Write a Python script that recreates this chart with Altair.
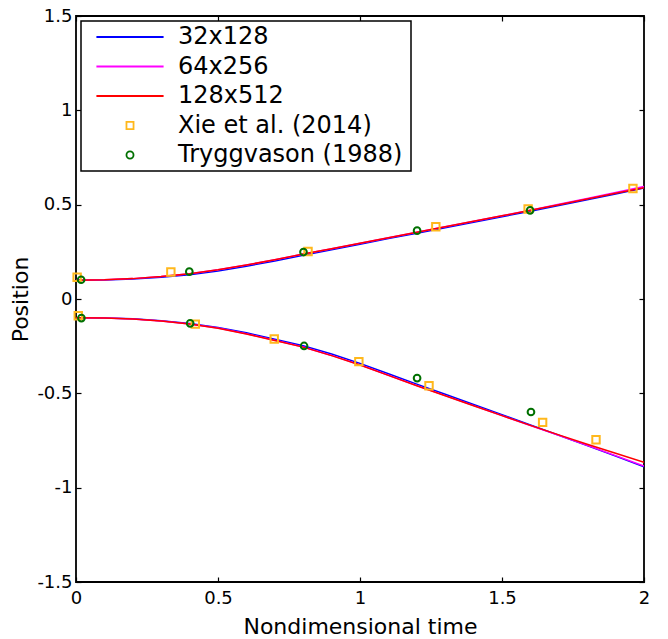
import altair as alt
import pandas as pd

# ---------------- data ----------------
t = [0.0, 0.1, 0.2, 0.3, 0.4, 0.5, 0.6, 0.7, 0.8, 0.9, 1.0,
     1.1, 1.2, 1.3, 1.4, 1.5, 1.6, 1.7, 1.8, 1.9, 2.0]

up_32 = [0.100, 0.101, 0.106, 0.115, 0.129, 0.149, 0.174, 0.202, 0.232, 0.261, 0.290,
         0.320, 0.349, 0.378, 0.407, 0.436, 0.465, 0.495, 0.526, 0.557, 0.588]
up_64 = [0.100, 0.102, 0.108, 0.119, 0.134, 0.155, 0.180, 0.208, 0.238, 0.266, 0.295,
         0.325, 0.354, 0.383, 0.412, 0.441, 0.471, 0.502, 0.533, 0.565, 0.597]
up_128 = [0.100, 0.102, 0.108, 0.119, 0.134, 0.155, 0.180, 0.208, 0.238, 0.266, 0.295,
          0.325, 0.354, 0.383, 0.412, 0.441, 0.470, 0.500, 0.530, 0.560, 0.590]

lo_32 = [-0.100, -0.101, -0.105, -0.115, -0.130, -0.151, -0.179, -0.213, -0.248, -0.292, -0.341,
         -0.396, -0.451, -0.505, -0.559, -0.613, -0.668, -0.722, -0.777, -0.833, -0.890]
lo_64 = [-0.100, -0.101, -0.106, -0.116, -0.132, -0.154, -0.184, -0.219, -0.254, -0.299, -0.349,
         -0.404, -0.459, -0.512, -0.565, -0.618, -0.671, -0.723, -0.776, -0.830, -0.885]
lo_128 = [-0.100, -0.101, -0.106, -0.117, -0.133, -0.155, -0.185, -0.220, -0.255, -0.300, -0.350,
          -0.405, -0.460, -0.513, -0.566, -0.618, -0.670, -0.720, -0.770, -0.818, -0.866]

xie_t = [0.004, 0.334, 0.817, 1.267, 1.592, 1.961,
         0.008, 0.420, 0.698, 0.996, 1.243, 1.643, 1.831]
xie_y = [0.115, 0.143, 0.252, 0.383, 0.477, 0.586,
         -0.089, -0.133, -0.212, -0.332, -0.460, -0.654, -0.746]

tryg_t = [0.018, 0.399, 0.801, 1.201, 1.599,
          0.019, 0.402, 0.803, 1.201, 1.602]
tryg_y = [0.102, 0.145, 0.249, 0.362, 0.470,
          -0.101, -0.129, -0.249, -0.419, -0.599]

series = ["32x128", "64x256", "128x512", "Xie et al. (2014)", "Tryggvason (1988)"]
colors = ["#0000ff", "#ff00ff", "#ff0000", "#ffb81c", "#007000"]
x_ticks = [0, 0.5, 1, 1.5, 2]
y_ticks = [-1.5, -1, -0.5, 0, 0.5, 1, 1.5]

# ---------------- tables ----------------
def line_df(name, up, lo):
    rows = [{"t": a, "y": b, "series": name, "branch": "upper"} for a, b in zip(t, up)]
    rows += [{"t": a, "y": b, "series": name, "branch": "lower"} for a, b in zip(t, lo)]
    return pd.DataFrame(rows)

df32 = line_df(series[0], up_32, lo_32)
df64 = line_df(series[1], up_64, lo_64)
df128 = line_df(series[2], up_128, lo_128)
dfx = pd.DataFrame({"t": xie_t, "y": xie_y, "series": series[3]})
dft = pd.DataFrame({"t": tryg_t, "y": tryg_y, "series": series[4]})

W, H = 568, 566
FONT = "DejaVu Sans"
line_path = "M-9.5,0L9.5,0"
shapes = [line_path, line_path, line_path, "square", "circle"]

xs = alt.Scale(domain=[0, 2], nice=False, zero=False)
ys = alt.Scale(domain=[-1.5, 1.5], nice=False, zero=False)
cs = alt.Scale(domain=series, range=colors)
ss = alt.Scale(domain=series, range=shapes)


def tick_axis(orient, offset, vals):
    return alt.Axis(orient=orient, offset=offset, values=vals, labels=False, ticks=True,
                    tickSize=5, tickWidth=1.2, tickColor="black", domain=False,
                    grid=False, title=None)


main_x = alt.Axis(orient="bottom", values=x_ticks, ticks=False, domain=False, grid=False,
                  labelExpr="'' + datum.value",
                  labelFontSize=18, labelFont=FONT, labelColor="black", labelPadding=7,
                  title="Nondimensional time", titleFontSize=22, titleFont=FONT,
                  titleFontWeight="normal", titleColor="black", titlePadding=9,
                  labelFlush=False)
main_y = alt.Axis(orient="left", values=y_ticks, ticks=False, domain=False, grid=False,
                  labelExpr="'' + datum.value",
                  labelFontSize=18, labelFont=FONT, labelColor="black", labelPadding=4,
                  title="Position", titleFontSize=22, titleFont=FONT,
                  titleFontWeight="normal", titleColor="black", titlePadding=4,
                  labelFlush=False)

# blank spacer title on the right side widens the legend box like the reference
spacer = "\u00a0" * 4
leg = alt.Legend(title=spacer, titleOrient="right", titleFontSize=24, titlePadding=5,
                 labelLimit=500)
color_enc = alt.Color("series:N", scale=cs, legend=leg)
shape_enc = alt.Shape("series:N", scale=ss, legend=leg)

l32 = alt.Chart(df32).mark_line(strokeWidth=1.5, clip=True).encode(
    x=alt.X("t:Q", scale=xs, axis=main_x),
    y=alt.Y("y:Q", scale=ys, axis=main_y),
    color=color_enc, detail="branch:N")
l64 = alt.Chart(df64).mark_line(strokeWidth=1.5, clip=True).encode(
    x=alt.X("t:Q", scale=xs, axis=None),
    y=alt.Y("y:Q", scale=ys, axis=None),
    color=color_enc, detail="branch:N")
l128 = alt.Chart(df128).mark_line(strokeWidth=1.5, clip=True).encode(
    x=alt.X("t:Q", scale=xs, axis=None),
    y=alt.Y("y:Q", scale=ys, axis=None),
    color=color_enc, detail="branch:N")
px = alt.Chart(dfx).mark_point(filled=False, strokeWidth=2, size=55, opacity=1).encode(
    x=alt.X("t:Q", scale=xs, axis=tick_axis("top", -H, x_ticks)),
    y=alt.Y("y:Q", scale=ys, axis=tick_axis("right", -W, y_ticks)),
    color=color_enc, shape=shape_enc)
pt = alt.Chart(dft).mark_point(filled=False, strokeWidth=2, size=45, opacity=1).encode(
    x=alt.X("t:Q", scale=xs, axis=tick_axis("bottom", -H, x_ticks)),
    y=alt.Y("y:Q", scale=ys, axis=tick_axis("left", -W, y_ticks)),
    color=color_enc, shape=shape_enc)

chart = alt.layer(l32, l64, l128, px, pt).resolve_axis(
    x="independent", y="independent"
).properties(
    width=W, height=H, autosize="none",
    padding={"left": 68, "top": 8, "right": 16, "bottom": 57},
    background="white",
).configure_view(
    stroke="black", strokeWidth=1.8
).configure_legend(
    orient="top-left", offset=5, strokeColor="black", fillColor="white",
    padding=4, labelFont=FONT, labelFontSize=24, labelColor="black",
    labelLimit=500, titleFont=FONT,
    symbolSize=50, symbolStrokeWidth=1.8, rowPadding=5.5, symbolOffset=33,
    labelOffset=36, cornerRadius=0, strokeWidth=1.5,
)

chart.save("out.html", embed_options={"renderer": "svg", "actions": False})
